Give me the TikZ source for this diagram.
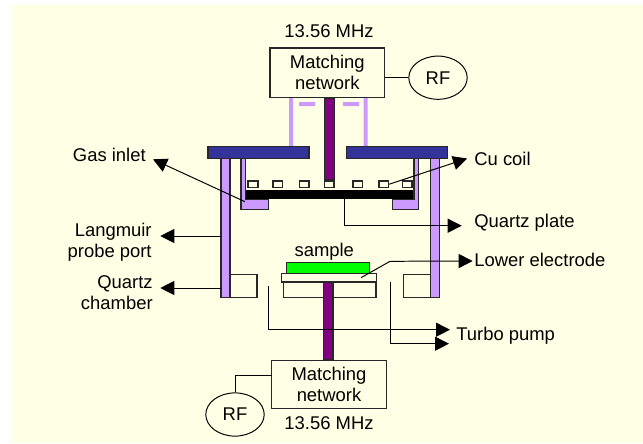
\documentclass[tikz,border=0pt]{standalone}
\usepackage{fontspec}
\setmainfont{Liberation Sans}
\usetikzlibrary{arrows.meta,shapes.geometric}
\definecolor{bgyellow}{RGB}{255,255,229}
\definecolor{quartzlilac}{RGB}{204,153,255}
\definecolor{flangeblue}{RGB}{51,51,153}
\definecolor{rodpurple}{RGB}{128,0,128}
\definecolor{linegray}{RGB}{40,40,40}
\begin{document}
\begin{tikzpicture}[x=0.025cm,y=-0.025cm,font=\fontsize{13.1}{15}\selectfont,line width=0.5pt,
    part/.style={draw=linegray,line width=1pt},
    netbox/.style={part,align=center,inner sep=0pt,minimum width=2.86cm,minimum height=1.23cm},
    rfnode/.style={draw=black,ellipse,inner sep=0pt,line width=0.7pt,minimum width=1.46cm,minimum height=1.08cm},
    coil/.style={part,fill=bgyellow,inner sep=0pt,minimum width=0.24cm,minimum height=0.16cm},
    leader/.style={-{Triangle[length=0.35cm,width=0.35cm]},black,line width=0.7pt},
    sidelabel/.style={inner sep=0pt,align=left,anchor=west},
    rlabel/.style={inner sep=0pt,align=right,anchor=east}]
  \fill[white] (0,0) rectangle (643,443);
  \fill[bgyellow] (12,5) rectangle (643,443);
  % top feed
  \fill[quartzlilac] (289,98) rectangle (293,146.7) (363.7,98) rectangle (367.7,146.7);
  \fill[quartzlilac] (299,102) rectangle (315,106) (343,102) rectangle (359,106);
  \draw[part,fill=rodpurple] (324.7,98) rectangle (334.7,180);
  \node[netbox] (topnet) at (327.3,72.8) {Matching\\network};
  \node[rfnode] (toprf) at (438,77.7) {RF};
  \draw[black,line width=0.7pt] (topnet.east|-toprf) -- (toprf);
  \node[inner sep=0pt] (topfreq) at (329,31) {13.56 MHz};
  % chamber
  \draw[part,fill=flangeblue] (208,146.7) rectangle (309,158.3);
  \draw[part,fill=flangeblue] (346.3,146.7) rectangle (447.3,158.3);
  \draw[part,fill=quartzlilac] (221,158.3) rectangle (230,297.3);
  \draw[part,fill=quartzlilac] (430.3,158.3) rectangle (439.3,297.3);
  \draw[part,fill=quartzlilac] (241,158.3) -- (245.7,158.3) -- (245.7,199) -- (268.7,199) -- (268.7,209.7) -- (241,209.7) -- cycle;
  \draw[part,fill=quartzlilac] (418.7,158.3) -- (414,158.3) -- (414,199) -- (392.3,199) -- (392.3,209.7) -- (418.7,209.7) -- cycle;
  \fill[black] (246,190.3) rectangle (413.3,198.7);
  \foreach \cx/\cn in {253/a,277.7/b,304/c,329/d,357.7/e,383.7/f,407/g}
    \node[coil] (coil\cn) at (\cx,184.2) {};
  \draw[part] (230,274.3) rectangle (257,297.3);
  \draw[part] (403.7,274.3) rectangle (430.3,297.3);
  % lower electrode
  \draw[part] (283.3,282) rectangle (376,297.7);
  \draw[part,fill=rodpurple] (323.7,282) rectangle (333,360);
  \draw[part,fill=bgyellow] (281.7,273.3) rectangle (376.7,282);
  \draw[part,fill=green] (286.3,262.3) rectangle (369.7,273.3);
  \node[inner sep=0pt] (samplelabel) at (324.3,252) {sample};
  \node[netbox,minimum height=1.2cm] (botnet) at (329,384.2) {Matching\\network};
  \node[rfnode] (botrf) at (235,414.5) {RF};
  \coordinate (botjoin) at (271.7,375.7);
  \draw[black,line width=0.7pt] (botjoin) -| (botrf.north);
  \node[inner sep=0pt] (botfreq) at (329,423) {13.56 MHz};
  % labels
  \node[rlabel] (gaslabel) at (146,155) {Gas inlet};
  \node[rlabel] (probelabel) at (152,242) {Langmuir\\probe port};
  \node[rlabel] (chamberlabel) at (153,293) {Quartz\\chamber};
  \node[sidelabel] (coillabel) at (474,159) {Cu coil};
  \node[sidelabel] (platelabel) at (474,223) {Quartz plate};
  \node[sidelabel] (electrodelabel) at (474,260) {Lower electrode};
  \node[sidelabel] (pumplabel) at (456,336) {Turbo pump};
  % arrows
  \coordinate (gasfoot) at (245,201.7);
  \coordinate (gastip) at (153,159.3);
  \coordinate (probefoot) at (221,236);
  \coordinate (probetip) at (160.3,236);
  \coordinate (chamberfoot) at (221,288);
  \coordinate (chambertip) at (160.3,288);
  \coordinate (coiltip) at (467,158.5);
  \coordinate (platefoot) at (344.3,198.7);
  \coordinate (platetip) at (461.7,225.7);
  \coordinate (electrodefoot) at (361,277.7);
  \coordinate (electrodebend) at (390,261.3);
  \coordinate (electrodetip) at (472.7,261);
  \coordinate (pumpfoota) at (268,286);
  \coordinate (pumptipa) at (450,329.7);
  \coordinate (pumpfootb) at (390.3,282);
  \coordinate (pumptipb) at (449,343.7);
  \draw[leader] (gasfoot) -- (gastip);
  \draw[leader] (probefoot) -- (probetip);
  \draw[leader] (chamberfoot) -- (chambertip);
  \draw[leader] (coilf.east) -- (coiltip);
  \draw[leader] (platefoot) |- (platetip);
  \draw[leader] (electrodefoot) -- (electrodebend) -- (electrodetip);
  \draw[leader] (pumpfoota) |- (pumptipa);
  \draw[leader] (pumpfootb) |- (pumptipb);
\end{tikzpicture}
\end{document}
